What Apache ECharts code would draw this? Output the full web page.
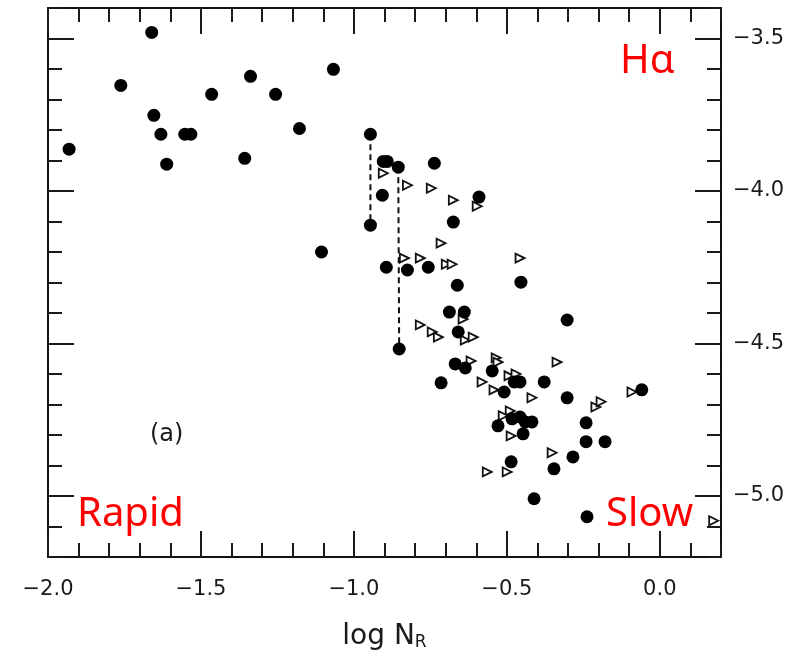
<!DOCTYPE html>
<html>
<head>
<meta charset="utf-8">
<script src="https://cdn.jsdelivr.net/npm/echarts@6/dist/echarts.min.js"></script>
<style>
html,body{margin:0;padding:0;background:#fff;}
#chart{width:787px;height:662px;}
</style>
</head>
<body>
<div id="chart"></div>
<script>
// ---- data ----
const xMin = -2.0, xMax = 0.2, yMin = -5.2, yMax = -3.4;
const xMajorTicks = [-2.0, -1.5, -1.0, -0.5, 0.0];
const yMajorTicks = [-3.5, -4.0, -4.5, -5.0];

// filled circles: [log N_R, y]
const dotsX = [-1.931,-1.762,-1.661,-1.654,-1.631,-1.612,-1.553,-1.533,-1.465,-1.357,
  -1.338,-1.256,-1.178,-1.106,-1.067,-0.946,-0.946,-0.904,-0.891,-0.907,
  -0.855,-0.852,-0.894,-0.825,-0.757,-0.737,-0.675,-0.591,-0.662,-0.454,
  -0.688,-0.639,-0.659,-0.669,-0.636,-0.548,-0.715,-0.509,-0.476,-0.457,
  -0.378,-0.303,-0.303,-0.059,-0.241,-0.241,-0.179,-0.284,-0.346,-0.529,
  -0.483,-0.457,-0.440,-0.418,-0.447,-0.486,-0.411,-0.238];
const dotsY = [-3.863,-3.654,-3.480,-3.752,-3.814,-3.912,-3.814,-3.814,-3.683,-3.893,
  -3.624,-3.683,-3.795,-4.200,-3.601,-3.814,-4.112,-3.903,-3.903,-4.014,
  -3.922,-4.518,-4.250,-4.259,-4.250,-3.909,-4.102,-4.020,-4.309,-4.299,
  -4.397,-4.397,-4.462,-4.567,-4.580,-4.590,-4.629,-4.659,-4.626,-4.626,
  -4.626,-4.423,-4.678,-4.652,-4.760,-4.822,-4.822,-4.872,-4.911,-4.770,
  -4.747,-4.741,-4.757,-4.757,-4.796,-4.888,-5.009,-5.068];

// open triangles
const triX = [-0.904,-0.825,-0.747,-0.675,-0.597,-0.715,-0.835,-0.783,-0.698,-0.679,
  -0.457,-0.643,-0.783,-0.744,-0.724,-0.636,-0.610,-0.617,-0.535,-0.529,
  -0.336,-0.581,-0.542,-0.493,-0.470,-0.418,-0.091,-0.209,-0.192,-0.352,
  -0.489,-0.512,-0.486,-0.499,-0.564,0.176];
const triY = [-3.942,-3.981,-3.991,-4.030,-4.050,-4.171,-4.220,-4.220,-4.240,-4.240,
  -4.220,-4.420,-4.439,-4.462,-4.479,-4.489,-4.479,-4.557,-4.547,-4.561,
  -4.561,-4.626,-4.652,-4.606,-4.600,-4.678,-4.659,-4.708,-4.691,-4.858,
  -4.721,-4.737,-4.803,-4.921,-4.921,-5.081];

// dashed connectors between pairs of filled circles (indices into dots arrays)
const connectorPairs = [[15, 16], [20, 21]];

// ---- chart ----
const FONT = 'DejaVu Sans';
const fmt = v => (v < 0 ? '\u2212' : '') + Math.abs(v).toFixed(1);
const frameLine = {show: true, onZero: false, lineStyle: {color: '#111', width: 2}};
const noLine = {show: false, onZero: false};
const tickStyle = {color: '#1a1a1a', width: 2};

function xAxisPair(pos, withLabels) {
  return [
    {type: 'value', position: pos, min: xMin, max: xMax, interval: 0.1,
     axisLine: frameLine, axisTick: {show: true, inside: true, length: 14, lineStyle: tickStyle},
     axisLabel: {show: false}, splitLine: {show: false}},
    {type: 'value', position: pos, min: xMin, max: xMax,
     axisLine: noLine,
     axisTick: {show: true, inside: true, length: 26, lineStyle: tickStyle, customValues: xMajorTicks},
     axisLabel: withLabels ? {show: true, customValues: xMajorTicks, formatter: fmt, margin: 22,
       fontFamily: FONT, fontSize: 21, color: '#1a1a1a'} : {show: false},
     splitLine: {show: false},
     name: withLabels ? '{m|log N}{s|R}' : '',
     nameLocation: 'middle', nameGap: 60,
     nameTextStyle: {rich: {
       m: {fontFamily: FONT, fontSize: 28, color: '#1a1a1a', lineHeight: 34, verticalAlign: 'bottom'},
       s: {fontFamily: FONT, fontSize: 17, color: '#1a1a1a', lineHeight: 14, verticalAlign: 'bottom'}
     }}}
  ];
}
function yAxisPair(pos, withLabels) {
  return [
    {type: 'value', position: pos, min: yMin, max: yMax, interval: 0.1,
     axisLine: frameLine, axisTick: {show: true, inside: true, length: 14, lineStyle: tickStyle},
     axisLabel: {show: false}, splitLine: {show: false}},
    {type: 'value', position: pos, min: yMin, max: yMax,
     axisLine: noLine,
     axisTick: {show: true, inside: true, length: 26, lineStyle: tickStyle, customValues: yMajorTicks},
     axisLabel: withLabels ? {show: true, customValues: yMajorTicks, formatter: fmt, margin: 12,
       fontFamily: FONT, fontSize: 21, color: '#1a1a1a'} : {show: false},
     splitLine: {show: false}}
  ];
}

const xAxes = [...xAxisPair('bottom', true), ...xAxisPair('top', false)];
const yAxes = [...yAxisPair('right', true), ...yAxisPair('left', false)];

const connectorSeries = connectorPairs.map(([a, b]) => ({
  type: 'line', xAxisIndex: 0, yAxisIndex: 0, symbol: 'none', silent: true, z: 1,
  lineStyle: {color: '#111', width: 2, type: [6, 4]},
  data: [[dotsX[a], dotsY[a]], [dotsX[b], dotsY[b]]]
}));

const option = {
  animation: false,
  backgroundColor: '#fff',
  grid: {left: 48, right: 66, top: 8, bottom: 105, containLabel: false, outerBoundsMode: 'none'},
  xAxis: xAxes,
  yAxis: yAxes,
  series: [
    ...connectorSeries,
    {type: 'scatter', xAxisIndex: 0, yAxisIndex: 0, symbol: 'circle', symbolSize: 13, z: 3,
     itemStyle: {color: '#000', opacity: 1},
     data: dotsX.map((x, i) => [x, dotsY[i]])},
    {type: 'scatter', xAxisIndex: 0, yAxisIndex: 0, symbol: 'triangle', symbolSize: 9,
     symbolRotate: -90, z: 2,
     itemStyle: {color: '#fff', borderColor: '#111', borderWidth: 1.8, opacity: 1},
     data: triX.map((x, i) => [x, triY[i]])}
  ],
  graphic: [
    {type: 'text', left: 150, top: 423, style: {text: '(a)', fontFamily: FONT, fontSize: 24, fill: '#1a1a1a'}},
    {type: 'text', x: 620, y: 62, style: {text: 'H\u03b1', fontFamily: 'Noto Sans', fontSize: 40, fill: '#ff0000', verticalAlign: 'middle'}},
    {type: 'text', x: 77, y: 515, style: {text: 'Rapid', fontFamily: 'Noto Sans', fontSize: 40, fill: '#ff0000', verticalAlign: 'middle'}},
    {type: 'text', x: 606, y: 515, style: {text: 'Slow', fontFamily: 'Noto Sans', fontSize: 40, fill: '#ff0000', verticalAlign: 'middle'}}
  ]
};

const chart = echarts.init(document.getElementById('chart'), null, {renderer: 'canvas'});
chart.setOption(option);
</script>
</body>
</html>
